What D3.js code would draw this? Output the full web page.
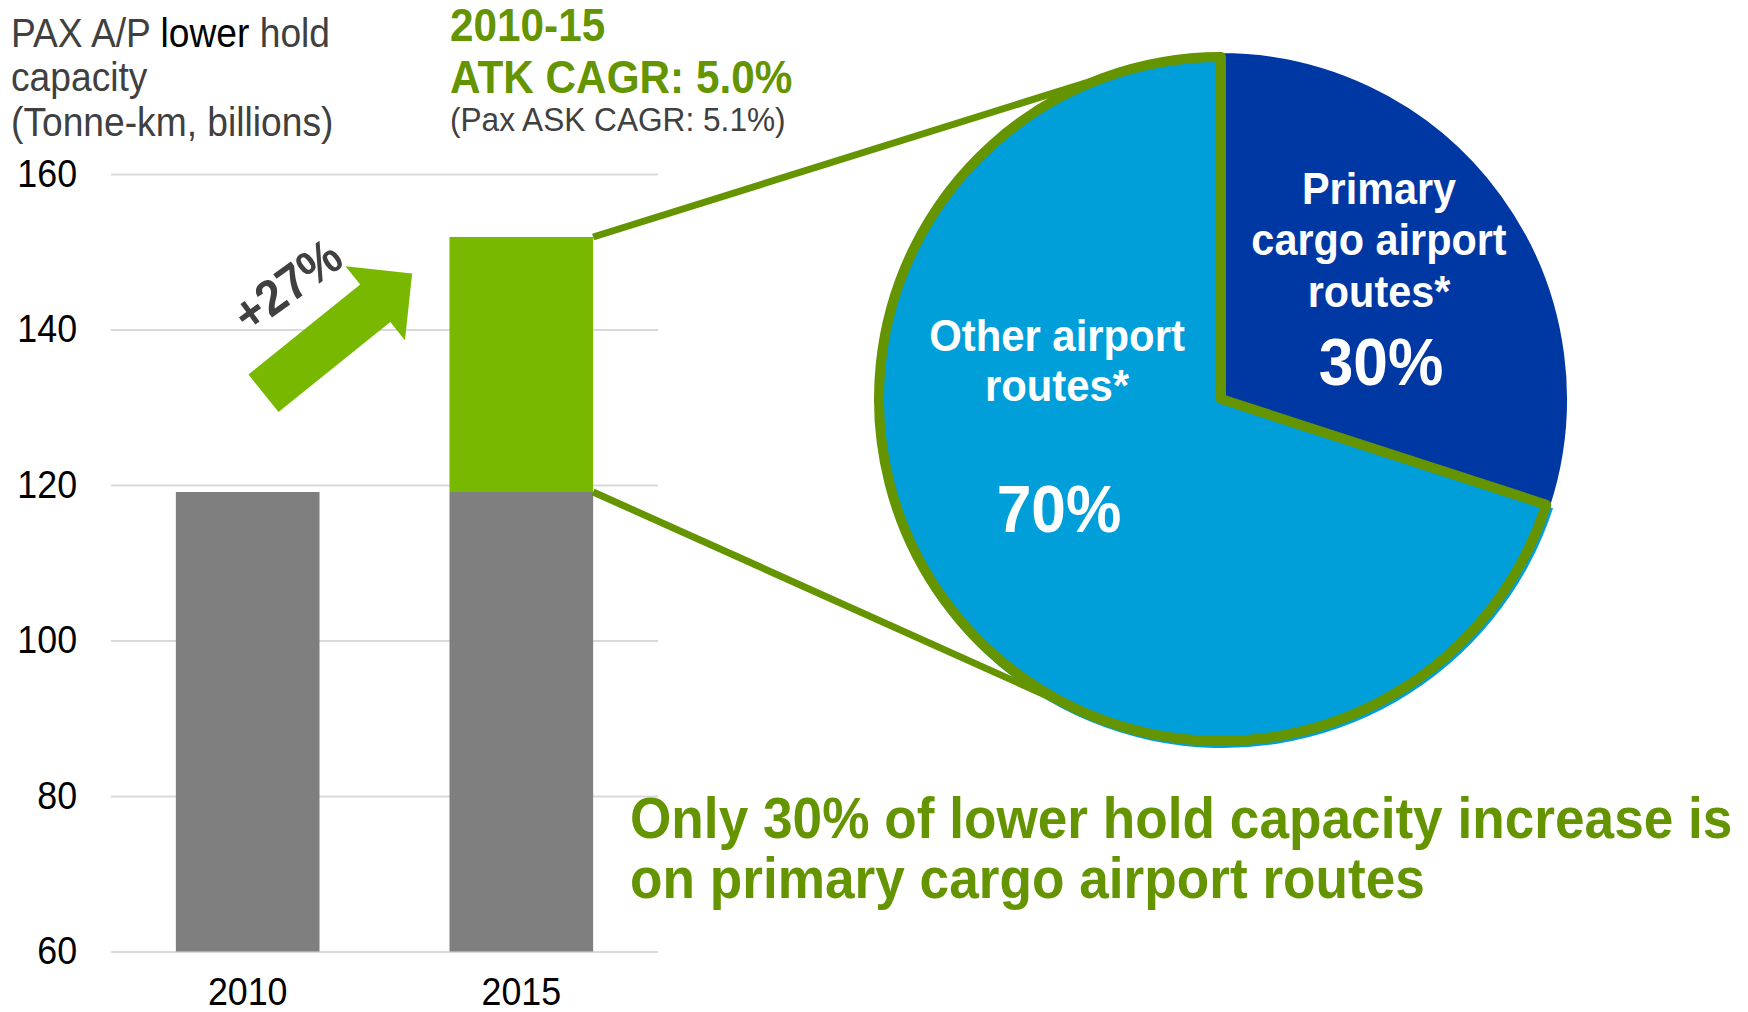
<!DOCTYPE html>
<html>
<head>
<meta charset="utf-8">
<script src="https://cdn.jsdelivr.net/npm/d3@7"></script>
<style>
  body { margin: 0; background: #fff; }
  text { font-family: "Liberation Sans", Arial, sans-serif; }
</style>
</head>
<body>
<div id="chart"></div>
<script>
// data
var years = ["2010", "2015"];
var baseValues = [119.1, 119.1];      // grey part
var increaseValues = [0, 32.8];       // green part (2015 only)
var yTicks = [60, 80, 100, 120, 140, 160];
var growthLabel = "+27%";
var pieNames = ["Primary cargo airport routes*", "Other airport routes*"];
var pieShares = [30, 70];

var W = 1748, H = 1012;
var SX = 0.93; // the reference type is a bit narrow

var svg = d3.select("#chart")
  .append("svg")
    .attr("width", W)
    .attr("height", H);

var green = "#78b800", olive = "#649400", grey = "#7f7f7f";

// scales
var x = d3.scaleBand()
  .domain(years)
  .range([111, 658])
  .paddingInner(0.475)
  .paddingOuter(0.237);

var y = d3.scaleLinear()
  .domain([60, 160])
  .range([951.5, 174]);

// gridlines + tick labels
var yAxis = svg.append("g")
  .attr("transform", "translate(111,0)")
  .call(d3.axisLeft(y).tickValues(yTicks).tickSize(-(658 - 111)).tickPadding(36.5));
yAxis.select(".domain").remove();
yAxis.selectAll("line").attr("stroke", "#d9d9d9").attr("stroke-width", 2);
yAxis.selectAll("text")
  .attr("font-size", 38.5)
  .attr("fill", "#000")
  .attr("transform", "scale(" + SX + ",1)")
  .attr("font-family", "Liberation Sans, Arial, sans-serif");

// bars
var bars = years.map(function(d, i) {
  return {year: d, base: baseValues[i], inc: increaseValues[i]};
});

svg.selectAll(".base")
  .data(bars)
  .enter().append("rect")
    .attr("x", function(d) { return x(d.year) })
    .attr("width", x.bandwidth())
    .attr("y", function(d) { return y(d.base) })
    .attr("height", function(d) { return y(60) - y(d.base) })
    .attr("fill", grey);

svg.selectAll(".inc")
  .data(bars.filter(function(d) { return d.inc > 0 }))
  .enter().append("rect")
    .attr("x", function(d) { return x(d.year) })
    .attr("width", x.bandwidth())
    .attr("y", function(d) { return y(d.base + d.inc) })
    .attr("height", function(d) { return y(d.base) - y(d.base + d.inc) })
    .attr("fill", green);

// year labels
svg.selectAll(".yr")
  .data(years)
  .enter().append("text")
    .attr("transform", function(d) { return "translate(" + (x(d) + x.bandwidth() / 2) + ",1005) scale(" + SX + ",1)" })
    .attr("text-anchor", "middle")
    .attr("font-size", 38.5)
    .attr("fill", "#000")
    .text(function(d) { return d });

// growth arrow, from the 2010 bar towards the 2015 bar
var a0 = [x("2010") + x.bandwidth() * 0.61, y(131.8)];
var a1 = [x("2015") - x.bandwidth() * 0.26, y(147.2)];
var alen = Math.hypot(a1[0] - a0[0], a1[1] - a0[1]);
var aang = Math.atan2(a1[1] - a0[1], a1[0] - a0[0]) * 180 / Math.PI;
var shaft = 24, head = 47.4, headLen = 47.4;
var arrowPts = [[0, -shaft], [alen - headLen, -shaft], [alen - headLen, -head], [alen, 0],
                [alen - headLen, head], [alen - headLen, shaft], [0, shaft]];
var ag = svg.append("g")
  .attr("transform", "translate(" + a0[0] + "," + a0[1] + ") rotate(" + aang + ")");
ag.append("path")
  .attr("d", d3.line()(arrowPts) + "Z")
  .attr("fill", green);
ag.append("text")
  .attr("transform", "translate(" + (alen / 2 - 10) + ",-52) rotate(3) scale(" + SX + ",1)")
  .attr("text-anchor", "middle")
  .attr("font-size", 50)
  .attr("font-weight", "bold")
  .attr("fill", "#404040")
  .text(growthLabel);

// pie
var cx = 1221, cy = 399, R = 347;
var pie = d3.pie().sort(null).value(function(d) { return d })(pieShares);
var arc = d3.arc().innerRadius(0).outerRadius(R);
var pg = svg.append("g").attr("transform", "translate(" + cx + "," + cy + ")");

pg.append("path")
  .attr("d", arc(pie[0]))
  .attr("fill", "#0038a3")
  .attr("stroke", "#fff")
  .attr("stroke-width", 2);
pg.append("path")
  .attr("d", arc(pie[1]))
  .attr("transform", "translate(2,2)")
  .attr("fill", "#009fda");
pg.append("path")
  .attr("d", d3.arc().innerRadius(0).outerRadius(R - 5)(pie[1]))
  .attr("fill", "none")
  .attr("stroke", olive)
  .attr("stroke-width", 10)
  .attr("stroke-linejoin", "round");

// callout lines: from the green segment corners, tangent to the pie
function tangent(px, py, r, upper) {
  var dx = px - cx, dy = py - cy, d = Math.hypot(dx, dy);
  var base = Math.atan2(dy, dx), off = Math.acos(r / d);
  var t = upper ? base + off : base - off;
  return [cx + r * Math.cos(t), cy + r * Math.sin(t)];
}
var topCorner = [x("2015") + x.bandwidth(), y(baseValues[1] + increaseValues[1])];
var botCorner = [x("2015") + x.bandwidth(), y(baseValues[1])];
var t1 = tangent(topCorner[0], topCorner[1], R - 5, true);
var t2 = tangent(botCorner[0], botCorner[1], R - 5, false);
svg.append("path")
  .attr("d", d3.line()([topCorner, t1]))
  .attr("stroke", olive).attr("stroke-width", 7).attr("fill", "none");
svg.append("path")
  .attr("d", d3.line()([botCorner, t2]))
  .attr("stroke", olive).attr("stroke-width", 7).attr("fill", "none");

// pie labels
function lines(g, arr, dx, dy0, step, size) {
  arr.forEach(function(s, i) {
    g.append("text")
      .attr("transform", "translate(" + dx + "," + (dy0 + i * step) + ") scale(" + SX + ",1)")
      .attr("text-anchor", "middle")
      .attr("font-size", size)
      .attr("font-weight", "bold")
      .attr("fill", "#fff")
      .text(s);
  });
}
lines(pg, ["Primary", "cargo airport", "routes*"], 158, -195, 51.3, 44.5);
lines(pg, [pieShares[0] + "%"], 160, -14, 0, 67);
lines(pg, ["Other airport", "routes*"], -164, -48, 50, 45);
lines(pg, [pieShares[1] + "%"], -162, 133, 0, 67);

// title (top left)
var t = svg.append("g").attr("transform", "translate(11,0) scale(" + SX + ",1)")
  .attr("font-size", 40).attr("fill", "#404040");
var l1 = t.append("text").attr("y", 47);
l1.append("tspan").text("PAX A/P ");
l1.append("tspan").attr("fill", "#000").text("lower");
l1.append("tspan").text(" hold");
t.append("text").attr("y", 91.5).text("capacity");
t.append("text").attr("y", 136).text("(Tonne-km, billions)");

// CAGR note
var c = svg.append("g").attr("transform", "translate(450,0) scale(" + SX + ",1)");
c.append("text").attr("y", 41).attr("font-size", 45.5).attr("font-weight", "bold").attr("fill", olive).text("2010-15");
c.append("text").attr("y", 93.5).attr("font-size", 45.5).attr("font-weight", "bold").attr("fill", olive).text("ATK CAGR: 5.0%");
c.append("text").attr("y", 131.5).attr("font-size", 34).attr("fill", "#404040").text("(Pax ASK CAGR: 5.1%)");

// headline
var h = svg.append("g").attr("transform", "translate(630,0) scale(" + SX + ",1)")
  .attr("font-size", 57.2).attr("font-weight", "bold").attr("fill", olive);
h.append("text").attr("y", 838).text("Only 30% of lower hold capacity increase is");
h.append("text").attr("y", 898.5).text("on primary cargo airport routes");
</script>
</body>
</html>
